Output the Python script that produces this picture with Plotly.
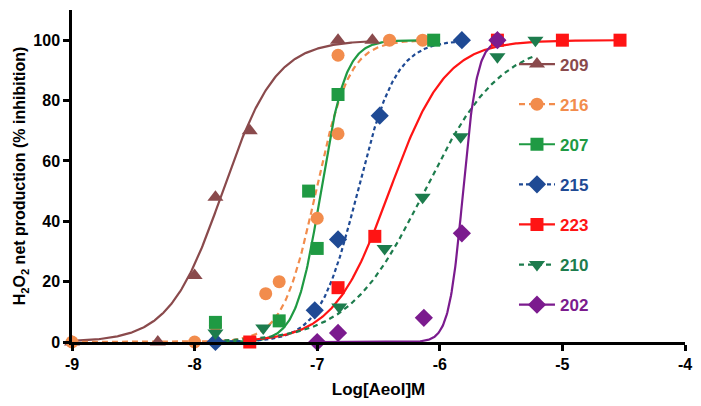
import numpy as np
import plotly.graph_objects as go

# ---- data ----
names = ["209", "216", "207", "215", "223", "210", "202"]
colors = ["#8a4a4c", "#f28c4c", "#1f9a43", "#1f4a94", "#ff1414", "#1d7c4d", "#7b1b8e"]
symbols = ["triangle-up", "circle", "square", "diamond", "square", "triangle-down", "diamond"]
dashes = ["solid", "6px,4px", "solid", "4px,3px", "solid", "5px,4px", "solid"]
msizes = [14, 13, 13, 14, 13, 14, 14]

x209 = [-9.0, -8.3, -8.0, -7.83, -7.55, -6.83, -6.55]
y209 = [0, 0, 22, 48, 70, 100, 100]
x216 = [-9.0, -8.0, -7.83, -7.42, -7.31, -7.0, -6.83, -6.83, -6.41, -6.14]
y216 = [0, 0, 5.5, 16, 20, 41, 69, 95, 100, 100]
x207 = [-7.83, -7.31, -7.07, -7.0, -6.83, -6.05]
y207 = [6.5, 7, 50, 31, 82, 100]
x215 = [-7.83, -7.02, -6.83, -6.49, -5.82]
y215 = [0, 10.5, 34, 75, 100]
x223 = [-7.55, -6.83, -6.53, -5.53, -5.0, -4.53]
y223 = [0, 18, 35, 100, 100, 100]
x210 = [-7.83, -7.44, -6.82, -6.45, -6.14, -5.83, -5.53, -5.22]
y210 = [3, 4.6, 11.6, 31, 48, 68, 94.5, 100]
x202 = [-7.0, -6.83, -6.13, -5.82, -5.53]
y202 = [0, 3, 8, 36, 100]

xs = [x209, x216, x207, x215, x223, x210, x202]
ys = [y209, y216, y207, y215, y223, y210, y202]

# fitted dose-response parameters (logEC50, Hill slope)
log_ec50 = [-7.77, -7.01, -6.97, -6.67, -6.41, -6.125, -5.81]
hill = [2.0, 3.2, 4.3, 2.8, 1.9, 1.4, 7.5]
bottom, top = 0, 100

x_ticks = [-9, -8, -7, -6, -5, -4]
y_ticks = [0, 20, 40, 60, 80, 100]

fig = go.Figure()
for i in range(len(names)):
    xc = np.linspace(min(xs[i]), max(xs[i]), 300)
    yc = bottom + (top - bottom) / (1 + 10 ** ((log_ec50[i] - xc) * hill[i]))
    fig.add_trace(go.Scatter(x=xc, y=yc, mode="lines", showlegend=False,
                             line=dict(color=colors[i], width=2.2, dash=dashes[i]),
                             hoverinfo="skip", cliponaxis=False))
for i in range(len(names)):
    fig.add_trace(go.Scatter(x=xs[i], y=ys[i], mode="markers", showlegend=False,
                             marker=dict(symbol=symbols[i], color=colors[i], size=msizes[i],
                                         line=dict(width=0)),
                             cliponaxis=False))
for i in range(len(names)):
    fig.add_trace(go.Scatter(x=[None], y=[None], mode="lines+markers",
                             name=f"<b><span style='color:{colors[i]}'>{names[i]}</span></b>",
                             legendgroup=names[i],
                             line=dict(color=colors[i], width=2.2, dash=dashes[i]),
                             marker=dict(symbol=symbols[i], color=colors[i], size=msizes[i])))

axis_font = dict(family="Arial, Liberation Sans, sans-serif", size=16, color="black")
fig.update_layout(
    width=701, height=406,
    margin=dict(l=72, r=16, t=10, b=64),
    paper_bgcolor="white", plot_bgcolor="white",
    font=dict(family="Arial, Liberation Sans, sans-serif", size=16, color="black"),
    legend=dict(x=0.721, y=0.89, xanchor="left", yanchor="top",
                font=dict(size=17), tracegroupgap=15, itemwidth=36,
                bgcolor="rgba(0,0,0,0)"),
    xaxis=dict(range=[-9, -4], tickvals=x_ticks, ticktext=[f"<b>{v}</b>" for v in x_ticks],
               showgrid=False, zeroline=False, showline=True, linecolor="black", linewidth=2.5,
               ticks="outside", ticklen=6, tickwidth=2.5, tickcolor="black",
               tickfont=axis_font,
               title=dict(text="<b>Log[Aeol]M</b>", font=dict(size=17), standoff=12)),
    yaxis=dict(range=[0, 110], tickvals=y_ticks, ticktext=[f"<b>{v}</b>" for v in y_ticks],
               showgrid=False, zeroline=False, showline=True, linecolor="black", linewidth=2.5,
               ticks="outside", ticklen=6, tickwidth=2.5, tickcolor="black",
               tickfont=axis_font,
               title=dict(text="<b>H<sub>2</sub>O<sub>2</sub> net production (% inhibition)</b>",
                          font=dict(size=16), standoff=4)),
)
fig.write_html("out.html", config={"displayModeBar": False},
               post_script="document.body.style.margin='0';")
